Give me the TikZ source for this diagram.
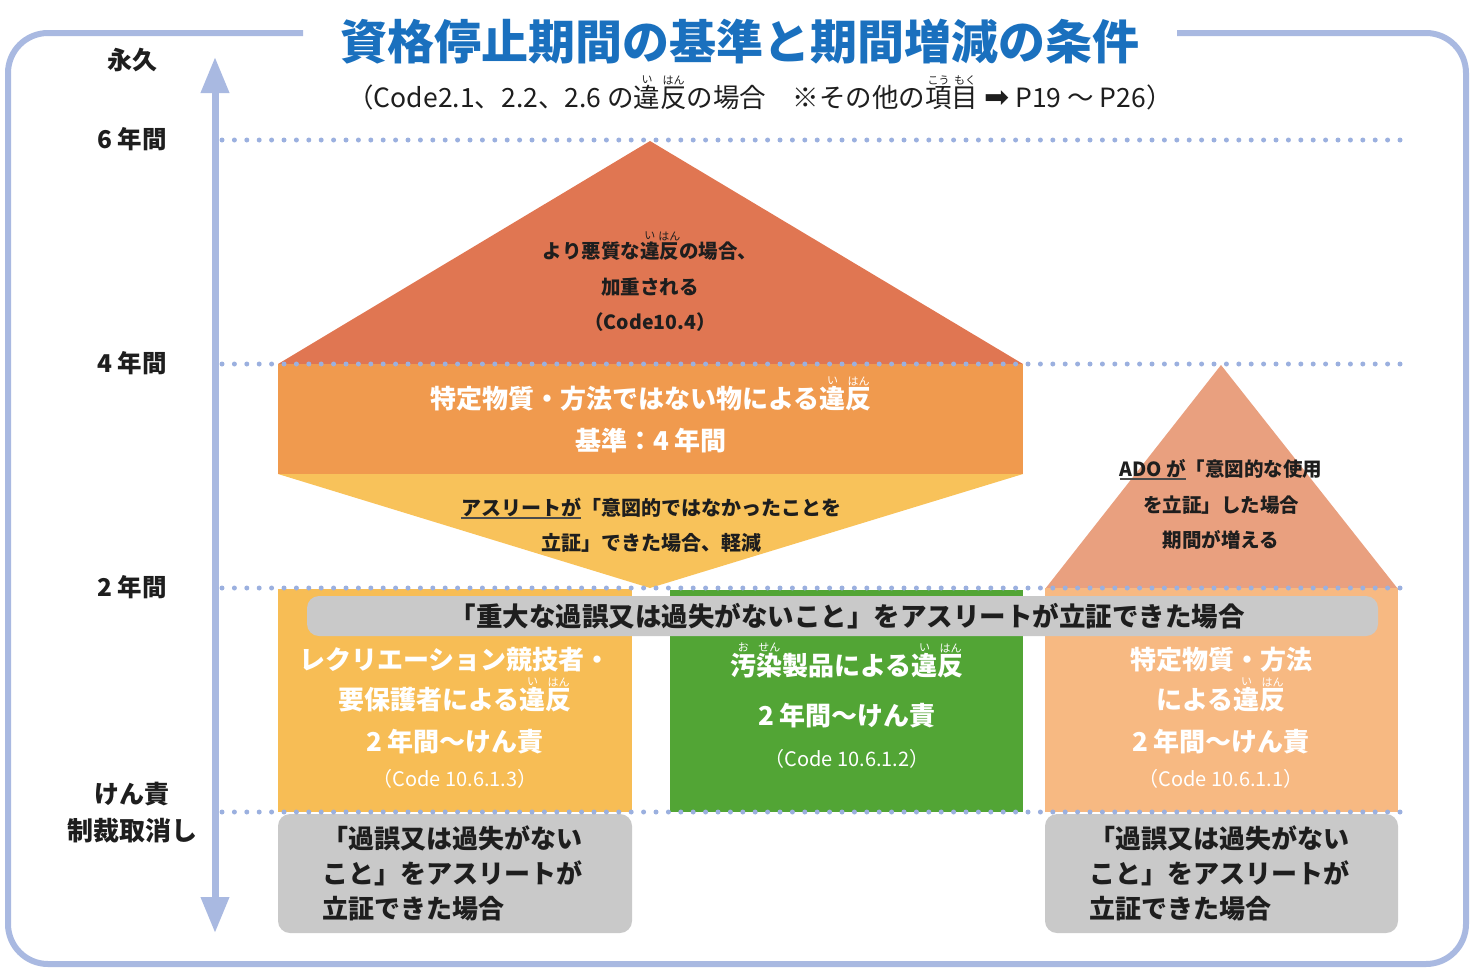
\documentclass[tikz,border=0pt]{standalone}
\usepackage{fontspec}
\setmainfont{Noto Sans CJK JP}
\newfontfamily\dejavu{DejaVu Sans}
\usetikzlibrary{arrows.meta}
\definecolor{framec}{HTML}{A9B9E1}
\definecolor{dotc}{HTML}{9BB0DF}
\definecolor{titlec}{HTML}{1A70BE}
\definecolor{dark}{HTML}{1E1E1E}
\definecolor{redc}{HTML}{E07652}
\definecolor{orangec}{HTML}{F09A4E}
\definecolor{yellowc}{HTML}{F8C25A}
\definecolor{yrectc}{HTML}{F7BD55}
\definecolor{greenc}{HTML}{52A535}
\definecolor{salmonc}{HTML}{E9A07F}
\definecolor{lorangec}{HTML}{F7B982}
\definecolor{grayc}{HTML}{C9C9C9}
\newcommand\fsz[1]{\fontsize{#1}{#1}\selectfont}
\newcommand\rubyx[2]{\leavevmode\hbox{\setbox0\hbox{#1}\rlap{\smash{\raisebox{\dimexpr\ht0+1.5pt\relax}{\makebox[\wd0]{\fsz{11}\mdseries #2}}}}\box0}}
\newcommand\ulx[1]{\leavevmode\hbox{\setbox0\hbox{#1}\rlap{\color{dark!80}\rule[-4pt]{\wd0}{1.8pt}}\box0}}
\tikzset{
  txt/.style={anchor=base, inner sep=0pt},
  lab/.style={txt, text=dark, font=\bfseries\fsz{25}},
  wt/.style={txt, text=white, font=\bfseries\fsz{26}},
  wcode/.style={txt, text=white, font=\fsz{20}},
  dk/.style={txt, text=dark, font=\bfseries\fsz{20}},
  gk/.style={txt, text=dark, font=\bfseries\fsz{26}, anchor=base west},
  dotline/.style={dotc, line width=5pt, line cap=round, dash pattern=on 0pt off 12.4pt},
}
\begin{document}
\begin{tikzpicture}[x=1pt, y=-1pt]
\useasboundingbox (0,0) rectangle (1475,969);
% frame
\draw[framec, line width=6pt, rounded corners=40pt] (303,33) -- (8,33) -- (8,964) -- (1466,964) -- (1466,33) -- (1177,33);
% title
\node[txt, text=titlec, font=\bfseries\fsz{47}] (title) at (740,59) {資格停止期間の基準と期間増減の条件};
\node[txt, text=dark, font=\fsz{26.5}] (sub) at (760,107) {（Code2.1、2.2、2.6 の\rubyx{違}{い}\rubyx{反}{はん}の場合　※その他の\rubyx{項}{こう}\rubyx{目}{もく} {\dejavu\fsz{30}➡} P19 ～ P26）};
% shapes
\fill[redc] (278,364) -- (650,141) -- (1023,364) -- cycle;
\fill[orangec] (278,364) rectangle (1023,474);
\fill[yellowc] (278,474) -- (1023,474) -- (650,588) -- cycle;
\fill[salmonc] (1045,589) -- (1221,365) -- (1398,589) -- cycle;
\fill[yrectc] (278,589) rectangle (632,812);
\fill[greenc] (670,590) rectangle (1023,812);
\fill[lorangec] (1045,588) rectangle (1398,812);
\fill[grayc, rounded corners=12pt] (307,596) rectangle (1378,636);
\fill[grayc, rounded corners=12pt] (278,814) rectangle (632,933);
\fill[grayc, rounded corners=12pt] (1045,814) rectangle (1398,933);
% dotted levels
\coordinate (d6a) at (222,140); \coordinate (d6b) at (1410,140);
\coordinate (d4a) at (222,364); \coordinate (d4b) at (1410,364);
\coordinate (d2a) at (222,588); \coordinate (d2b) at (1410,588);
\coordinate (d0a) at (222,812); \coordinate (d0b) at (1410,812);
\draw[dotline] (d6a) -- (d6b);
\draw[dotline] (d4a) -- (d4b);
\draw[dotline] (d2a) -- (d2b);
\draw[dotline] (d0a) -- (d0b);
% axis
\coordinate (atop) at (215,57);
\coordinate (abot) at (215,933);
\draw[framec, line width=7pt, {Triangle[width=27pt,length=36pt]}-{Triangle[width=27pt,length=36pt]}] (atop) -- (abot);
% left labels
\node[lab] (y0) at (132,69) {永久};
\node[lab, font=\bfseries\fsz{24.5}] (y6) at (132,148) {6 年間};
\node[lab, font=\bfseries\fsz{24.5}] (y4) at (132,372) {4 年間};
\node[lab, font=\bfseries\fsz{24.5}] (y2) at (132,596) {2 年間};
\node[lab] (yk) at (132,803) {けん責};
\node[lab, font=\bfseries\fsz{26}] (yc) at (132,840) {制裁取消し};
% red triangle text
\node[dk, font=\bfseries\fsz{19.5}] (r1) at (650,258) {より悪質な\rubyx{違}{い}\rubyx{反}{はん}の場合、};
\node[dk, font=\bfseries\fsz{19.5}] (r2) at (650,294) {加重される};
\node[dk, font=\bfseries\fsz{19.5}] (r3) at (650,329) {（Code10.4）};
% orange rect text
\node[wt] (o1) at (651,408) {特定物質・方法ではない物による\rubyx{違}{い}\rubyx{反}{はん}};
\node[wt] (o2) at (651,450) {基準：4 年間};
% yellow triangle text
\node[dk] (t1) at (651,515) {\ulx{アスリートが}「意図的ではなかったことを};
\node[dk] (t2) at (651,550) {立証」できた場合、軽減};
% right triangle text
\node[dk, font=\bfseries\fsz{19.5}] (s1) at (1221,476) {\ulx{ADO が}「意図的な使用};
\node[dk, font=\bfseries\fsz{19.5}] (s2) at (1221,512) {を立証」した場合};
\node[dk, font=\bfseries\fsz{19.5}] (s3) at (1221,547) {期間が増える};
% gray bar
\node[txt, text=dark, font=\bfseries\fsz{26.5}] (bar) at (847,626) {「重大な過誤又は過失がないこと」をアスリートが立証できた場合};
% left yellow box
\node[wt] (a1) at (455,669) {レクリエーション競技者・};
\node[wt] (a2) at (455,709) {要保護者による\rubyx{違}{い}\rubyx{反}{はん}};
\node[wt] (a3) at (455,751) {2 年間～けん責};
\node[wcode] (a4) at (455,786) {（Code 10.6.1.3）};
% green box
\node[wt] (g1) at (847,675) {\rubyx{汚}{お}\rubyx{染}{せん}製品による\rubyx{違}{い}\rubyx{反}{はん}};
\node[wt] (g2) at (847,725) {2 年間～けん責};
\node[wcode] (g3) at (847,766) {（Code 10.6.1.2）};
% right box
\node[wt] (b1) at (1221,669) {特定物質・方法};
\node[wt] (b2) at (1221,709) {による\rubyx{違}{い}\rubyx{反}{はん}};
\node[wt] (b3) at (1221,751) {2 年間～けん責};
\node[wcode] (b4) at (1221,786) {（Code 10.6.1.1）};
% bottom gray boxes
\node[gk] (c1) at (322,848) {「過誤又は過失がない};
\node[gk] (c2) at (322,883) {こと」をアスリートが};
\node[gk] (c3) at (322,918) {立証できた場合};
\node[gk] (e1) at (1089,848) {「過誤又は過失がない};
\node[gk] (e2) at (1089,883) {こと」をアスリートが};
\node[gk] (e3) at (1089,918) {立証できた場合};
\end{tikzpicture}
\end{document}
